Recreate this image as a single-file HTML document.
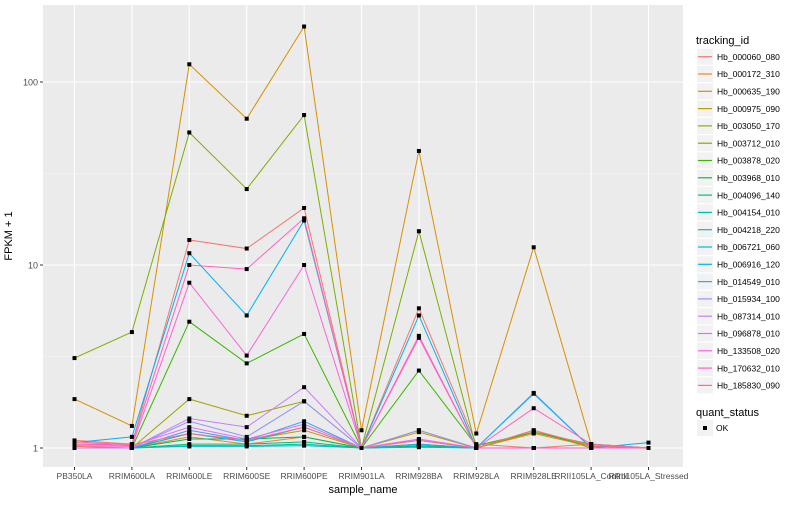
<!DOCTYPE html>
<html><head><meta charset="utf-8"><style>
body{margin:0;background:#fff;font-family:"Liberation Sans",sans-serif}
svg text{font-family:"Liberation Sans",sans-serif}
</style></head><body>
<svg id="chart" width="800" height="500" xmlns="http://www.w3.org/2000/svg">
<rect x="43" y="5" width="640" height="462" fill="#ebebeb"/>
<g id="grid"></g><g id="lines"></g><g id="pts"></g><g id="axes"></g><g id="legend"></g>
<text x="12" y="236" transform="rotate(-90 12 236)" text-anchor="middle" font-size="11" fill="#000">FPKM + 1</text>
<text x="363" y="493" text-anchor="middle" font-size="11" fill="#000">sample_name</text>
</svg>
<script>
const categories=["PB350LA","RRIM600LA","RRIM600LE","RRIM600SE","RRIM600PE","RRIM901LA","RRIM928BA","RRIM928LA","RRIM928LE","RRII105LA_Control","RRII105LA_Stressed"];
const seriesNames=["Hb_000060_080","Hb_000172_310","Hb_000635_190","Hb_000975_090","Hb_003050_170","Hb_003712_010","Hb_003878_020","Hb_003968_010","Hb_004096_140","Hb_004154_010","Hb_004218_220","Hb_006721_060","Hb_006916_120","Hb_014549_010","Hb_015934_100","Hb_087314_010","Hb_096878_010","Hb_133508_020","Hb_170632_010","Hb_185830_090"];
const s1=[1.1,1.05,13.7,12.3,20.5,1,5.8,1.05,1,1.05,1];
const s2=[1.02,1,1.15,1.05,1.15,1,1.05,1,1.2,1.02,1];
const s3=[1.85,1.32,125,63,201,1.25,42,1.2,12.5,1.05,1];
const s4=[1,1,1.2,1.1,1.25,1,1.22,1,1,1,1];
const s5=[1,1,1.85,1.5,1.8,1,1.25,1,1.25,1,1];
const s6=[3.1,4.3,53,26,66,1,15.3,1,1.22,1.05,1];
const s7=[1,1,4.9,2.9,4.2,1,2.65,1.03,1.22,1.03,1];
const s8=[1,1,1.12,1.12,1.15,1,1.03,1,1,1,1];
const s9=[1,1,1.05,1.05,1.08,1,1.02,1,1,1,1];
const s10=[1,1,1.03,1.03,1.05,1,1.02,1,1,1,1];
const s11=[1,1,1.02,1.02,1.03,1,1.01,1,1,1,1];
const s12=[1,1,1.2,1.08,1.3,1,1.05,1,1,1,1];
const s13=[1.07,1.15,11.6,5.3,17.5,1,5.3,1,2.0,1,1.07];
const s14=[1,1,1.25,1.1,1.4,1,1.1,1,1.98,1,1];
const s15=[1,1,1.4,1.15,1.8,1,1.25,1,1,1,1];
const s16=[1,1,1.45,1.3,2.15,1,1.1,1,1,1,1];
const s17=[1.05,1.03,1.3,1.12,1.35,1,1.12,1,1,1,1];
const s18=[1.03,1.02,8,3.2,10,1,4.0,1,1,1,1];
const s19=[1.05,1.05,10,9.5,18,1,4.1,1,1.65,1.05,1];
const s20=[1.08,1.04,1.2,1.1,1.3,1,1.1,1,1.25,1.03,1];
const seriesValues=[s1,s2,s3,s4,s5,s6,s7,s8,s9,s10,s11,s12,s13,s14,s15,s16,s17,s18,s19,s20];
const colors=["#F8766D","#EA8331","#D89000","#C09B00","#A3A500","#7CAE00","#39B600","#00BB4E","#00BF7D","#00C1A3","#00BFC4","#00BAE0","#00B0F6","#35A2FF","#9590FF","#C77CFF","#E76BF3","#FA62DB","#FF62BC","#FF6C91"];
const yTicks=[1,10,100];
const yTickLabels=["1","10","100"];

const NS="http://www.w3.org/2000/svg";
function mk(tag,attrs,parent){const e=document.createElementNS(NS,tag);for(const k in attrs)e.setAttribute(k,attrs[k]);parent.appendChild(e);return e;}
const xScale=i=>74.5+i*57.4;
const yScale=v=>448-183*Math.log10(v);
const grid=document.getElementById('grid'),lines=document.getElementById('lines'),pts=document.getElementById('pts'),axes=document.getElementById('axes'),leg=document.getElementById('legend');
// minor grid
[Math.sqrt(10),Math.sqrt(1000)].forEach(v=>{const l=mk('line',{x1:43,x2:683,y1:yScale(v),y2:yScale(v),stroke:'#f7f7f7','stroke-width':0.6},grid);

});
yTicks.forEach((v,i)=>{const y=yScale(v);
const l=mk('line',{x1:43,x2:683,y1:y,y2:y,stroke:'#fff','stroke-width':1.1},grid);


mk('line',{x1:40,x2:43,y1:y,y2:y,stroke:'#333','stroke-width':1},axes);
const t=mk('text',{x:38,y:y+3.5,'text-anchor':'end','font-size':9,fill:'#4d4d4d'},axes);t.textContent=yTickLabels[i];

});
categories.forEach((c,i)=>{const x=xScale(i);
const l=mk('line',{x1:x,x2:x,y1:5,y2:467,stroke:'#fff','stroke-width':1.1},grid);


mk('line',{x1:x,x2:x,y1:467,y2:470,stroke:'#333','stroke-width':1},axes);
const t=mk('text',{x:x,y:479,'text-anchor':'middle','font-size':8.5,fill:'#4d4d4d'},axes);t.textContent=c;

});
seriesValues.forEach((vals,si)=>{
const p=mk('polyline',{points:vals.map((v,i)=>xScale(i)+','+yScale(v)).join(' '),fill:'none',stroke:colors[si],'stroke-width':1},lines);


vals.forEach((v,i)=>{const r=mk('rect',{x:xScale(i)-2,y:yScale(v)-2,width:4,height:4,fill:'#000'},pts);

});
});
// legend
const lt=mk('text',{x:696,y:44,'font-size':11,fill:'#000'},leg);lt.textContent='tracking_id';


seriesNames.forEach((n,i)=>{const cy=56.7+i*17.3;
const g=mk('g',{},leg);


mk('rect',{x:697,y:cy-8,width:16,height:16,fill:'#f2f2f2'},g);
mk('line',{x1:698,x2:712,y1:cy,y2:cy,stroke:colors[i],'stroke-width':1.2},g);
const t=mk('text',{x:717,y:cy+3.2,'font-size':8.5,fill:'#000'},g);t.textContent=n;});
const qt=mk('text',{x:696,y:416,'font-size':11,fill:'#000'},leg);qt.textContent='quant_status';


const g2=mk('g',{},leg);


mk('rect',{x:697,y:420,width:16,height:16,fill:'#f2f2f2'},g2);
mk('rect',{x:703,y:426,width:4,height:4,fill:'#000'},g2);
const ok=mk('text',{x:716,y:431,'font-size':8.5,fill:'#000'},g2);ok.textContent='OK';
</script>
</body></html>
